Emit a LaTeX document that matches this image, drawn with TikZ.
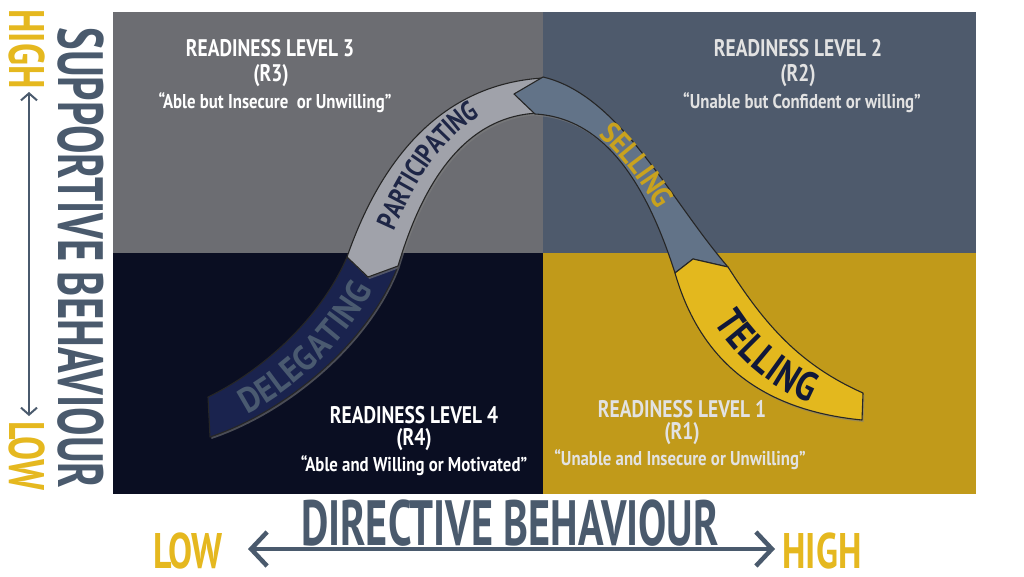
\documentclass[tikz,border=0pt]{standalone}
\usepackage{fontspec}
\setmainfont{PT Sans}
\newfontfamily\qfont{PT Sans}[FakeStretch=0.81]
\newfontfamily\qqfont{PT Sans}[FakeStretch=0.84]
\newfontfamily\afont{PT Sans}[FakeStretch=0.66]
\newfontfamily\vfont{PT Sans}[FakeStretch=0.665]
\newfontfamily\hfont{PT Sans}[FakeStretch=0.72]
\newfontfamily\lfont{PT Sans}[FakeStretch=0.8]
\newfontfamily\lwfont{PT Sans}[FakeStretch=0.9]
\usetikzlibrary{arrows.meta,decorations.text,shadows}
\definecolor{qthree}{HTML}{6C6D72}
\definecolor{qtwo}{HTML}{4E5A6C}
\definecolor{qfour}{HTML}{0A0E22}
\definecolor{qone}{HTML}{C19A1A}
\definecolor{slate}{HTML}{4A5A6D}
\definecolor{yel}{HTML}{E5B81F}
\definecolor{bdel}{HTML}{1A234E}
\definecolor{bpar}{HTML}{A0A2AA}
\definecolor{bsel}{HTML}{627388}
\definecolor{btel}{HTML}{E3B81E}
\definecolor{tdel}{HTML}{4A5A70}
\definecolor{tpar}{HTML}{1E2646}
\definecolor{tsel}{HTML}{C9A21E}
\definecolor{ttel}{HTML}{10183A}
\definecolor{offw}{HTML}{E2E2E2}
\tikzset{
  band/.style={draw=black!85, line width=1.1pt, line join=round,
    drop shadow={shadow xshift=1.5pt, shadow yshift=-2pt, opacity=0.55}},
  qtitle/.style={inner sep=0pt, font=\qfont\bfseries\fontsize{24}{24}\selectfont},
  qquote/.style={inner sep=0pt, font=\qqfont\bfseries\fontsize{20}{20}\selectfont},
  axlbl/.style={inner sep=0pt, text=slate, font=\afont\bfseries\fontsize{64}{64}\selectfont},
  vlbl/.style={inner sep=0pt, text=slate, font=\vfont\bfseries\fontsize{64}{64}\selectfont},
  hilo/.style={inner sep=0pt, text=yel, font=\hfont\bfseries\fontsize{50}{50}\selectfont},
  axarrow/.style={draw=slate, line width=4.5pt, arrows={Straight Barb[length=16pt,width=34pt]-Straight Barb[length=16pt,width=34pt]}},
  vaxarrow/.style={draw=slate, line width=2pt, arrows={Straight Barb[length=7pt,width=16pt]-Straight Barb[length=7pt,width=16pt]}}
}
\begin{document}
\begin{tikzpicture}[x=1pt,y=-1pt]
\useasboundingbox[fill=white] (0,0) rectangle (1024,576);
% quadrants
\fill[qthree] (113,12) rectangle (543,253);
\fill[qtwo] (543,12) rectangle (976,253);
\fill[qfour] (113,253) rectangle (543,494);
\fill[qone] (543,253) rectangle (976,494);
% quadrant texts
\node[qtitle, text=white] (r3a) at (270,48) {READINESS LEVEL 3};
\node[qtitle, text=white] (r3b) at (271,76) {(R3)};
\node[qquote, text=white] (r3c) at (275,103) {“Able but Insecure \ or Unwilling”};
\node[qtitle, text=offw] (r2a) at (798,48) {READINESS LEVEL 2};
\node[qtitle, text=offw] (r2b) at (798,76) {(R2)};
\node[qquote, text=offw] (r2c) at (802,103) {“Unable but Confident or willing”};
\node[qtitle, text=white] (r4a) at (414,415) {READINESS LEVEL 4};
\node[qtitle, text=white] (r4b) at (414,440) {(R4)};
\node[qquote, text=white] (r4c) at (414,466) {“Able and Willing or Motivated”};
\node[qtitle, text=offw] (r1a) at (682,409) {READINESS LEVEL 1};
\node[qtitle, text=offw] (r1b) at (682,434) {(R1)};
\node[qquote, text=offw] (r1c) at (680,460) {“Unable and Insecure or Unwilling”};
% bands
\path[band, fill=bdel] (208,397) .. controls (260,372) and (320,320) .. (347,257)
  -- (368,277) -- (398,266) .. controls (370,340) and (290,410) .. (210,437) -- cycle;
\path[band, fill=bpar] (347,257) .. controls (372,185) and (425,85) .. (543,78)
  -- (543,113) .. controls (470,113) and (425,175) .. (398,266) -- (368,277) -- cycle;
\path[band, fill=bsel] (514,94) -- (543,77) .. controls (620,95) and (670,200) .. (728,267)
  -- (693,259) -- (675,273) .. controls (650,195) and (610,118) .. (535,114) -- cycle;
\path[band, fill=btel] (675,273) -- (693,259) -- (728,267) .. controls (765,325) and (800,365) .. (863,393)
  -- (862,420) .. controls (760,410) and (700,360) .. (675,273) -- cycle;
% band labels
\path[decorate, decoration={text along path, text align=center, raise=-10pt, text color=tdel,
  text={|\lwfont\bfseries\fontsize{35}{35}\selectfont|DELEGATING}}]
  (212,420) .. controls (275,395) and (345,340) .. (378,255);
\path[decorate, decoration={text along path, text align=center, raise=-10pt, text color=tpar,
  text={|\lfont\bfseries\fontsize{28}{28}\selectfont|PARTICIPATING}}]
  (370,262) .. controls (400,185) and (440,108) .. (510,95);
\path[decorate, decoration={text along path, text align=center, raise=-10pt, text color=tsel,
  text={|\lwfont\bfseries\fontsize{30}{30}\selectfont|SELLING}}]
  (539,95) .. controls (617,107) and (662,196) .. (703,270);
\path[decorate, decoration={text along path, text align=center, raise=-13pt, text color=ttel,
  text={|\lfont\bfseries\fontsize{41}{41}\selectfont|TELLING}}]
  (702,271) .. controls (730,342) and (778,388) .. (862,406);
% horizontal axis
\node[axlbl] (dirb) at (510,523) {DIRECTIVE BEHAVIOUR};
\node[hilo] (lowx) at (188,551) {LOW};
\node[hilo] (highx) at (822,551) {HIGH};
\coordinate (hl) at (248,549);
\coordinate (hr) at (775,549);
\draw[axarrow] (hl) -- (hr);
% vertical axis
\node[vlbl, rotate=-90] (supb) at (81,258) {SUPPORTIVE BEHAVIOUR};
\node[hilo, rotate=-90] (highy) at (27,49) {HIGH};
\node[hilo, rotate=-90] (lowy) at (27,456) {LOW};
\coordinate (vt) at (29,92);
\coordinate (vb) at (29,416);
\draw[vaxarrow] (vt) -- (vb);
\end{tikzpicture}
\end{document}
